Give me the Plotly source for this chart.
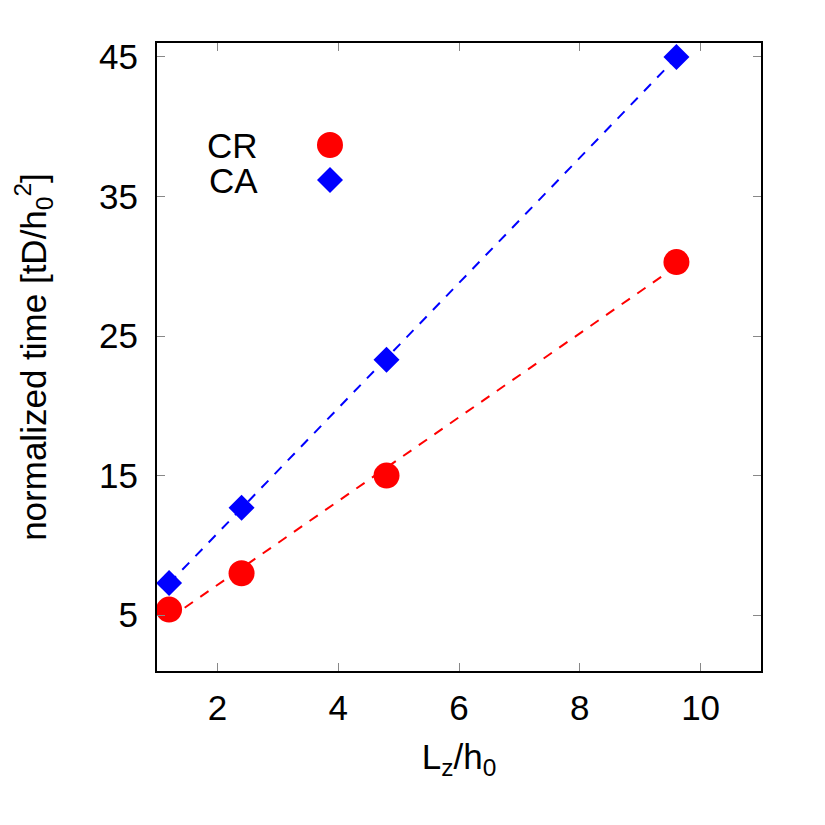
import numpy as np
import plotly.graph_objects as go

# Data
lz = [1.2, 2.4, 4.8, 9.6]
cr_time = [5.4, 8.0, 15.0, 30.3]
ca_time = [7.3, 12.7, 23.3, 45.0]
xticks = [2, 4, 6, 8, 10]
yticks = [5, 15, 25, 35, 45]

FONT = "Liberation Sans"
FS = 35

fig = go.Figure()

def fit_line(x, y):
    b, a = np.polyfit(x, y, 1)
    xs = np.array([min(x), max(x)])
    return xs, a + b * xs

for y, color in [(cr_time, "#ff0000"), (ca_time, "#0000ff")]:
    xs, ys = fit_line(lz, y)
    fig.add_trace(go.Scatter(x=xs, y=ys, mode="lines",
                             line=dict(color=color, width=2, dash="10px,9px"),
                             showlegend=False, hoverinfo="skip"))

fig.add_trace(go.Scatter(x=lz, y=cr_time, mode="markers", name="CR",
                         marker=dict(symbol="circle", size=26, color="#ff0000",
                                     line=dict(width=0)),
                         showlegend=False))
fig.add_trace(go.Scatter(x=lz, y=ca_time, mode="markers", name="CA",
                         marker=dict(symbol="diamond", size=20, color="#0000ff",
                                     line=dict(width=0)),
                         showlegend=False))

# Legend (gnuplot style: text then symbol)
leg_x_text = 0.1705
leg_x_sym = 0.2864
leg_y = [0.8376, 0.782]
for name, yy in zip(["CR", "CA"], leg_y):
    fig.add_annotation(x=leg_x_text, y=yy, xref="paper", yref="paper",
                       text=name, showarrow=False, xanchor="right",
                       yanchor="middle", height=34, valign="middle",
                       font=dict(family=FONT, size=FS, color="black"))
fig.add_shape(type="circle", xref="paper", yref="paper",
              xsizemode="pixel", ysizemode="pixel",
              xanchor=leg_x_sym, yanchor=leg_y[0],
              x0=-13, x1=13, y0=-13, y1=13,
              fillcolor="#ff0000", line=dict(width=0))
fig.add_shape(type="path", xref="paper", yref="paper",
              xsizemode="pixel", ysizemode="pixel",
              xanchor=leg_x_sym, yanchor=leg_y[1],
              path="M -13 0 L 0 13 L 13 0 L 0 -13 Z",
              fillcolor="#0000ff", line=dict(width=0))

axis_common = dict(showline=True, linecolor="black", linewidth=2, mirror="ticks",
                   ticks="inside", ticklen=8, tickcolor="#888888", tickwidth=1,
                   showgrid=False, zeroline=False,
                   tickfont=dict(family=FONT, size=FS, color="black"))

fig.update_xaxes(range=[1, 11], tickvals=xticks, ticktext=[str(v) for v in xticks],
                 ticklabelstandoff=5,
                 title=dict(text="L<sub>z</sub>/h<sub>0</sub>", standoff=18,
                            font=dict(family=FONT, size=FS, color="black")),
                 **axis_common)
fig.update_yaxes(range=[1, 46], tickvals=yticks, ticktext=[str(v) for v in yticks],
                 ticklabelstandoff=10,
                 title=dict(text="normalized time [tD/h<sub>0</sub><sup>2</sup>]",
                            standoff=42,
                            font=dict(family=FONT, size=FS, color="black")),
                 **axis_common)

fig.update_layout(width=825, height=825,
                  margin=dict(l=157, r=64, t=43, b=154),
                  plot_bgcolor="white", paper_bgcolor="white",
                  font=dict(family=FONT, size=FS, color="black"))

fig.write_html("out.html")
